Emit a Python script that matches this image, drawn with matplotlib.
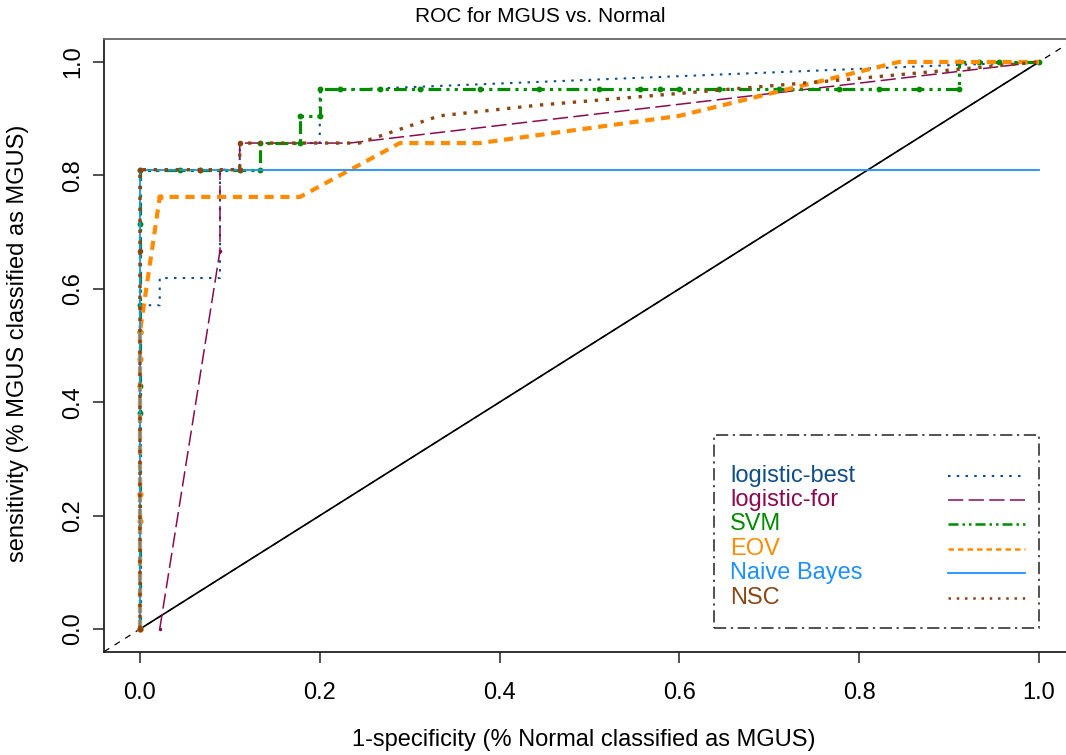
import matplotlib
matplotlib.use("Agg")
import matplotlib.pyplot as plt
from matplotlib.patches import Rectangle
from matplotlib.lines import Line2D

plt.rcParams['font.family'] = ['Liberation Sans', 'DejaVu Sans']

# ---------------- data (ROC points) ----------------
names = ["logistic-best", "logistic-for", "SVM", "EOV", "Naive Bayes", "NSC"]
colors = ["#104E8B", "#8B0A50", "#008B00", "#FF8C00", "#1E90FF", "#8B4513"]

best_x = [0, 0, 0.022, 0.022, 0.089, 0.089, 0.111, 0.111, 0.2, 0.2, 0.244, 0.911, 1.0]
best_y = [0, 0.571, 0.571, 0.619, 0.619, 0.810, 0.810, 0.857, 0.857, 0.952, 0.952, 0.995, 1.0]

for_x = [0.022, 0.089, 0.089, 0.111, 0.111, 0.233, 1.0]
for_y = [0, 0.667, 0.810, 0.810, 0.857, 0.857, 1.0]

svm_x = [0, 0, 0, 0, 0, 0, 0, 0.044, 0.067, 0.111, 0.133, 0.133, 0.178, 0.178, 0.2, 0.2,
         0.222, 0.267, 0.311, 0.378, 0.444, 0.511, 0.556, 0.578, 0.6, 0.644, 0.711, 0.778,
         0.822, 0.867, 0.911, 0.911, 0.933, 0.956, 1.0]
svm_y = [0, 0.381, 0.429, 0.524, 0.571, 0.714, 0.810, 0.810, 0.810, 0.810, 0.810, 0.857,
         0.857, 0.905, 0.905, 0.952, 0.952, 0.952, 0.952, 0.952, 0.952, 0.952, 0.952, 0.952,
         0.952, 0.952, 0.952, 0.952, 0.952, 0.952, 0.952, 1.0, 1.0, 1.0, 1.0]

eov_x = [0, 0, 0, 0, 0, 0.022, 0.178, 0.289, 0.378, 0.6, 0.844, 1.0]
eov_y = [0, 0.190, 0.238, 0.476, 0.524, 0.762, 0.762, 0.857, 0.857, 0.905, 1.0, 1.0]

nb_x = [0, 0, 1.0]
nb_y = [0, 0.810, 0.810]

nsc_x = [0, 0, 0, 0.067, 0.111, 0.111, 0.244, 0.333, 0.444, 0.778, 1.0]
nsc_y = [0, 0.667, 0.810, 0.810, 0.810, 0.857, 0.857, 0.905, 0.924, 0.968, 1.0]

series_x = [best_x, for_x, svm_x, eov_x, nb_x, nsc_x]
series_y = [best_y, for_y, svm_y, eov_y, nb_y, nsc_y]

styles = [
    dict(ls=(0, (1.2, 3.0)), lw=1.5, marker=None),
    dict(ls=(0, (10, 3.5)), lw=1.1, marker='.', ms=3, every=slice(0, 5)),
    dict(ls=(0, (4, 1.6, 1, 1.6, 1, 1.6)), lw=2.3, marker='o', ms=3.2, every=None),
    dict(ls=(0, (2.2, 1.6)), lw=3.0, marker='o', ms=3.5, every=slice(0, 6)),
    dict(ls='-', lw=1.3, marker=None),
    dict(ls=(0, (1, 2.3)), lw=2.4, marker='o', ms=3, every=slice(0, 6)),
]

# ---------------- figure ----------------
W, H = 1066, 755
fig = plt.figure(figsize=(W / 100, H / 100), dpi=100)
ax = fig.add_axes([104 / W, (755 - 651.7) / H, 970.9 / W, 612.4 / H])
ax.set_xlim(-0.04, 1.04)
ax.set_ylim(-0.04, 1.04)

# reference diagonal
ax.axline((0, 0), slope=1, color='black', lw=0.9, ls=(0, (5, 5)), zorder=1)
ax.plot([0, 1], [0, 1], color='black', lw=1.2, zorder=1)

for i, (xs, ys) in enumerate(zip(series_x, series_y)):
    st = styles[i]
    ax.plot(xs, ys, color=colors[i], ls=st['ls'], lw=st['lw'], zorder=2 + i)
    if st['marker']:
        ax.plot(xs, ys, ls='none', marker=st['marker'], ms=st['ms'],
                color=colors[i], mec=colors[i], markevery=st['every'], zorder=2 + i)

# spines / ticks
for s in ['left', 'bottom']:
    ax.spines[s].set_color('#222222')
    ax.spines[s].set_linewidth(1.3)
ax.spines['top'].set_color('#666666')
ax.spines['top'].set_linewidth(1.3)
ax.spines['right'].set_visible(False)

ticks = [0.0, 0.2, 0.4, 0.6, 0.8, 1.0]
ticklabels = ["0.0", "0.2", "0.4", "0.6", "0.8", "1.0"]
ax.set_xticks(ticks)
ax.set_xticklabels(ticklabels)
ax.set_yticks(ticks)
ax.set_yticklabels(ticklabels)
ax.tick_params(axis='both', direction='out', length=8, width=1.1, colors='#222222',
               labelcolor='black', labelsize=17)
ax.tick_params(axis='x', pad=14)
ax.tick_params(axis='y', pad=6, labelrotation=90)
for lab in ax.get_yticklabels():
    lab.set_va('center')

fig.text(540 / W, 1 - 16 / H, "ROC for MGUS vs. Normal", ha='center', va='center', fontsize=15)
fig.text(584 / W, 1 - 740 / H, "1-specificity (% Normal classified as MGUS)",
         ha='center', va='center', fontsize=17)
fig.text(18 / W, 1 - 343 / H, "sensitivity (% MGUS classified as MGUS)",
         ha='center', va='center', rotation=90, fontsize=17)

# legend (drawn manually, R style)
ax.add_patch(Rectangle((0.628, 0.0387), 0.963 - 0.628, 0.354 - 0.0387,
                       transform=ax.transAxes, fill=False, ec='#222222', lw=1.1,
                       ls=(0, (8, 3, 1.5, 3)), zorder=20))
row_y = [0.287, 0.248, 0.208, 0.168, 0.129, 0.088]
for i, name in enumerate(names):
    ax.text(0.645, row_y[i], name, transform=ax.transAxes, color=colors[i],
            fontsize=17, ha='left', va='center', zorder=21)
    st = styles[i]
    ax.add_line(Line2D([0.869, 0.949], [row_y[i], row_y[i]], transform=ax.transAxes,
                       color=colors[i], ls=st['ls'], lw=min(st['lw'], 1.8), zorder=21))

fig.savefig("out.png", dpi=100)
